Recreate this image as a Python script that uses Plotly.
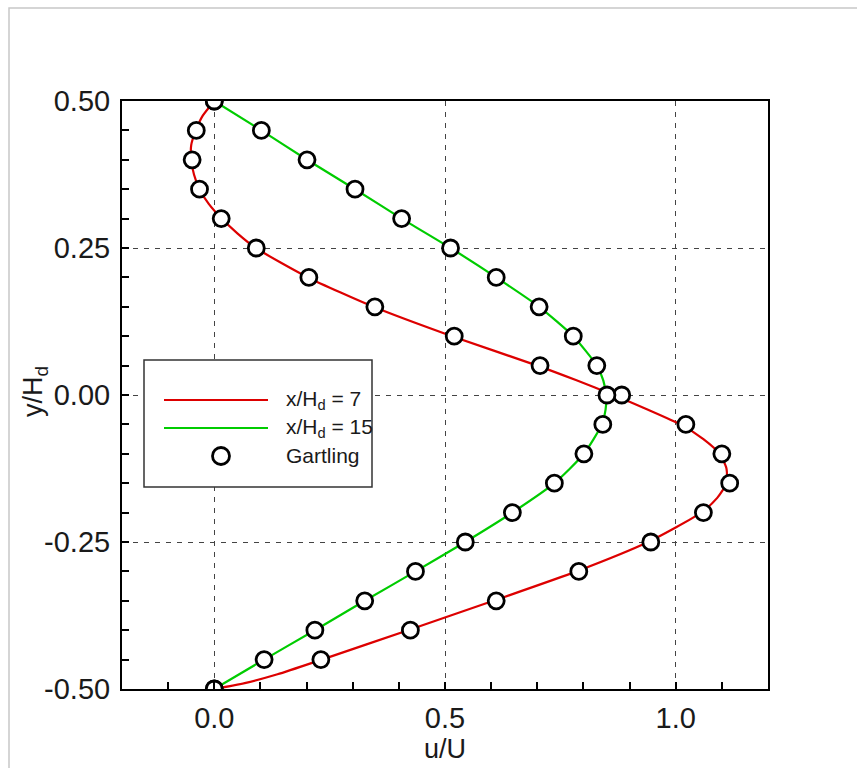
import plotly.graph_objects as go

# ---- data ----
gart_y = [0.50, 0.45, 0.40, 0.35, 0.30, 0.25, 0.20, 0.15, 0.10, 0.05, 0.00,
          -0.05, -0.10, -0.15, -0.20, -0.25, -0.30, -0.35, -0.40, -0.45, -0.50]
gart7_u = [0.0, -0.039, -0.048, -0.032, 0.015, 0.091, 0.205, 0.348, 0.52, 0.706, 0.883,
           1.022, 1.100, 1.117, 1.060, 0.946, 0.790, 0.611, 0.425, 0.231, 0.0]
gart15_u = [0.0, 0.102, 0.201, 0.305, 0.406, 0.512, 0.611, 0.704, 0.778, 0.829, 0.851,
            0.842, 0.801, 0.737, 0.646, 0.544, 0.436, 0.326, 0.218, 0.108, 0.0]

line7_y = [0.50, 0.475, 0.45, 0.425, 0.40, 0.375, 0.35, 0.325, 0.30, 0.275, 0.25, 0.20,
           0.15, 0.10, 0.05, 0.025, 0.00, -0.025, -0.05, -0.075, -0.10, -0.125, -0.15,
           -0.175, -0.20, -0.25, -0.30, -0.35, -0.40, -0.45, -0.475, -0.49, -0.50]
line7_u = [0.0, -0.025, -0.040, -0.050, -0.050, -0.044, -0.032, -0.012, 0.016, 0.050, 0.090,
           0.203, 0.345, 0.515, 0.700, 0.785, 0.865, 0.940, 1.010, 1.060, 1.095, 1.110, 1.110,
           1.090, 1.055, 0.940, 0.785, 0.605, 0.420, 0.233, 0.137, 0.066, 0.0]

line15_y = [0.50, 0.45, 0.40, 0.35, 0.30, 0.25, 0.20, 0.15, 0.10, 0.05, 0.025, 0.00, -0.025,
            -0.05, -0.10, -0.15, -0.20, -0.25, -0.30, -0.35, -0.40, -0.45, -0.50]
line15_u = [0.0, 0.102, 0.201, 0.305, 0.406, 0.512, 0.611, 0.704, 0.778, 0.829, 0.843, 0.849,
            0.848, 0.840, 0.801, 0.737, 0.646, 0.544, 0.436, 0.326, 0.218, 0.108, 0.0]

x_ticks = [0.0, 0.5, 1.0]
x_ticktext = ["0.0", "0.5", "1.0"]
y_ticks = [-0.50, -0.25, 0.00, 0.25, 0.50]
y_ticktext = ["-0.50", "-0.25", "0.00", "0.25", "0.50"]

RED = "#dd0000"
GREEN = "#00cc00"
FONT = "Liberation Sans, Arial, sans-serif"
TXT = "#1a1a1a"

fig = go.Figure()
fig.add_trace(go.Scatter(x=line7_u, y=line7_y, mode="lines",
                         line=dict(color=RED, width=2.2, shape="spline", smoothing=0.6),
                         name="x/H<sub>d</sub> = 7", showlegend=False))
fig.add_trace(go.Scatter(x=line15_u, y=line15_y, mode="lines",
                         line=dict(color=GREEN, width=2.2, shape="spline", smoothing=0.6),
                         name="x/H<sub>d</sub> = 15", showlegend=False))
marker = dict(symbol="circle", size=16, color="white", line=dict(color="black", width=2.8))
fig.add_trace(go.Scatter(x=gart7_u, y=gart_y, mode="markers", marker=marker,
                         name="Gartling", showlegend=False))
fig.add_trace(go.Scatter(x=gart15_u, y=gart_y, mode="markers", marker=marker,
                         name="Gartling", showlegend=False))

# plot area in pixels: x 122..768, y 101..689
L, R, T, B = 122, 768, 101, 689
W, H = R - L, B - T
def px(x):
    return (x - L) / W
def py(y):
    return (B - y) / H

shapes = []
# outer light frame
shapes.append(dict(type="rect", xref="paper", yref="paper",
                   x0=px(9), x1=px(900), y0=py(830), y1=py(8),
                   line=dict(color="#c8c8c8", width=1.5), fillcolor="rgba(0,0,0,0)", layer="below"))
# legend box
shapes.append(dict(type="rect", xref="paper", yref="paper",
                   x0=px(144), x1=px(372), y0=py(487), y1=py(360),
                   line=dict(color="#333333", width=1.5), fillcolor="white", layer="above"))
shapes.append(dict(type="line", xref="paper", yref="paper",
                   x0=px(164), x1=px(268), y0=py(400), y1=py(400),
                   line=dict(color=RED, width=2.2), layer="above"))
shapes.append(dict(type="line", xref="paper", yref="paper",
                   x0=px(164), x1=px(268), y0=py(428), y1=py(428),
                   line=dict(color=GREEN, width=2.2), layer="above"))
shapes.append(dict(type="circle", xref="paper", yref="paper",
                   x0=px(221 - 8.5), x1=px(221 + 8.5), y0=py(456 + 8.5), y1=py(456 - 8.5),
                   line=dict(color="black", width=2.8), fillcolor="white", layer="above"))

annotations = []
for txt, yy in [("x/H<sub>d</sub> = 7", 400), ("x/H<sub>d</sub> = 15", 428), ("Gartling", 456)]:
    annotations.append(dict(text=txt, xref="paper", yref="paper", x=px(284), y=py(yy),
                            xanchor="left", yanchor="middle", showarrow=False,
                            font=dict(family=FONT, size=21, color=TXT)))
# y-axis title
annotations.append(dict(text="y/H<sub>d</sub>", xref="paper", yref="paper", x=px(35), y=py(392),
                        xanchor="center", yanchor="middle", textangle=-90, showarrow=False,
                        font=dict(family=FONT, size=27, color=TXT)))

fig.update_layout(
    width=857, height=768,
    margin=dict(l=L, r=857 - R, t=T, b=768 - B, autoexpand=False),
    paper_bgcolor="white", plot_bgcolor="white",
    shapes=shapes, annotations=annotations,
    showlegend=False,
    font=dict(family=FONT, color=TXT),
)
fig.update_xaxes(
    range=[-0.2, 1.2], tickvals=x_ticks, ticktext=x_ticktext, automargin=False,
    ticks="inside", ticklen=7, tickwidth=1.5, tickcolor="black",
    minor=dict(dtick=0.1, tick0=0, ticks="inside", ticklen=7, tickwidth=1.5, tickcolor="black", showgrid=False),
    showgrid=True, gridcolor="#444444", gridwidth=1, griddash="5px,6px",
    showline=True, linecolor="black", linewidth=2, mirror=True,
    zeroline=False, tickfont=dict(size=29, family=FONT, color=TXT),
    ticklabelstandoff=2,
    title=dict(text="u/U", font=dict(size=27, family=FONT, color=TXT), standoff=0),
)
fig.update_yaxes(
    range=[-0.5, 0.5], tickvals=y_ticks, ticktext=y_ticktext, automargin=False,
    ticks="inside", ticklen=7, tickwidth=1.5, tickcolor="black",
    minor=dict(dtick=0.05, tick0=0, ticks="inside", ticklen=7, tickwidth=1.5, tickcolor="black", showgrid=False),
    showgrid=True, gridcolor="#444444", gridwidth=1, griddash="5px,6px",
    showline=True, linecolor="black", linewidth=2, mirror=True,
    zeroline=False, tickfont=dict(size=29, family=FONT, color=TXT),
    ticklabelstandoff=4,
)

fig.write_html("out.html")
